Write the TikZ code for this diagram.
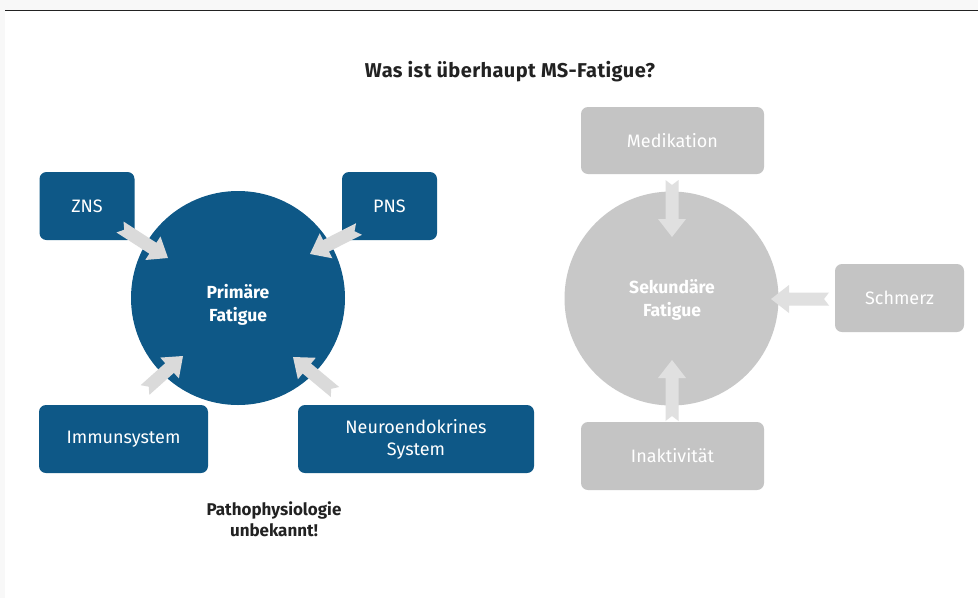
\documentclass[tikz,border=0pt]{standalone}
\usepackage{fontspec}
\setmainfont{Fira Sans}
\usetikzlibrary{calc}

\definecolor{msblue}{RGB}{14,88,135}
\definecolor{boxgray}{RGB}{196,196,196}
\definecolor{circgray}{RGB}{200,200,200}
\definecolor{arrowgray}{RGB}{218,218,218}
\definecolor{arrowlight}{RGB}{224,224,224}
\definecolor{framegray}{RGB}{248,248,248}
\definecolor{inkdark}{RGB}{34,34,34}

\tikzset{
  bluebox/.style={draw=none, fill=msblue, rounded corners=7pt, text=white,
    font=\fontsize{18}{22}\selectfont, align=center, inner sep=0pt},
  graybox/.style={draw=none, fill=boxgray, rounded corners=7pt, text=white,
    font=\fontsize{18}{22}\selectfont, align=center, inner sep=0pt},
  bigcircle/.style={circle, draw=none, minimum size=214pt, inner sep=0pt},
  circletext/.style={text=white, align=center,
    font=\bfseries\fontsize{17.5}{23}\selectfont},
  % block arrow with a notched tail, drawn from the start point to the tip
  fatarrow/.style={to path={
    let \p1=(\tikztostart), \p2=(\tikztotarget),
        \n1={atan2(\y2-\y1,\x2-\x1)}, \n2={veclen(\x2-\x1,\y2-\y1)} in
    ($(\p1)+(\n1+90:6.5pt)$)
    -- ($(\p1)+(\n1:5pt)$)
    -- ($(\p1)+(\n1-90:6.5pt)$)
    -- ($(\p1)+(\n1:{\n2*1pt-18pt})+(\n1-90:6.5pt)$)
    -- ($(\p1)+(\n1:{\n2*1pt-18pt})+(\n1-90:14pt)$)
    -- (\p2)
    -- ($(\p1)+(\n1:{\n2*1pt-18pt})+(\n1+90:14pt)$)
    -- ($(\p1)+(\n1:{\n2*1pt-18pt})+(\n1+90:6.5pt)$)
    -- cycle}},
}

\begin{document}
\begin{tikzpicture}[x=1pt,y=-1pt]
\useasboundingbox (0,0) rectangle (978,598);
% page frame
\fill[white] (0,0) rectangle (978,598);
\fill[framegray] (0,0) rectangle (978,10);
\fill[framegray] (0,0) rectangle (5,598);
\draw[inkdark, line width=1.4pt] (5,10.5) -- (978,10.5);

% title
\node[font=\bfseries\fontsize{20}{24}\selectfont\addfontfeature{LetterSpace=2}, text=inkdark]
  (title) at (510,72) {Was ist überhaupt MS-Fatigue?};

% primary fatigue
\node[bigcircle, fill=msblue] (prim) at (238,298) {};
\node[circletext] (primtxt) at (238,305) {Primäre\\Fatigue};
\node[bluebox, minimum width=95pt, minimum height=68pt] (zns) at (87,206) {ZNS};
\node[bluebox, minimum width=95pt, minimum height=68pt] (pns) at (389.5,206) {PNS};
\node[bluebox, minimum width=169pt, minimum height=68pt] (immun) at (123.5,439) {Immunsystem};
\node[bluebox, minimum width=236pt, minimum height=68pt] (neuro) at (416,439)
  {Neuroendokrines\\System};
\node[font=\bfseries\fontsize{17}{21}\selectfont, text=inkdark, align=center] (patho)
  at (274,519) {Pathophysiologie\\unbekannt!};

% secondary fatigue
\node[bigcircle, fill=circgray] (sek) at (671.5,298.5) {};
\node[circletext] (sektxt) at (672,300) {Sekundäre\\Fatigue};
\node[graybox, minimum width=183pt, minimum height=67pt] (medi) at (672.5,140.5) {Medikation};
\node[graybox, minimum width=129pt, minimum height=68pt] (schm) at (899.5,298) {Schmerz};
\node[graybox, minimum width=183pt, minimum height=68pt] (inak) at (672.5,456) {Inaktivität};

% arrow end points
\coordinate (znsT) at (120,227);   \coordinate (znsH) at (168,258);
\coordinate (pnsT) at (359,229);   \coordinate (pnsH) at (310,254);
\coordinate (immT) at (145,390);   \coordinate (immH) at (183,356);
\coordinate (neuT) at (335,392);   \coordinate (neuH) at (293,357);
\coordinate (medT) at (672,180);   \coordinate (medH) at (672,237);
\coordinate (schT) at (829,299);   \coordinate (schH) at (771,299);
\coordinate (inaT) at (672,421);   \coordinate (inaH) at (672,360);

\fill[arrowgray] (znsT) to[fatarrow] (znsH);
\fill[arrowgray] (pnsT) to[fatarrow] (pnsH);
\fill[arrowgray] (immT) to[fatarrow] (immH);
\fill[arrowgray] (neuT) to[fatarrow] (neuH);
\fill[arrowlight] (medT) to[fatarrow] (medH);
\fill[arrowlight] (schT) to[fatarrow] (schH);
\fill[arrowlight] (inaT) to[fatarrow] (inaH);
\end{tikzpicture}
\end{document}
